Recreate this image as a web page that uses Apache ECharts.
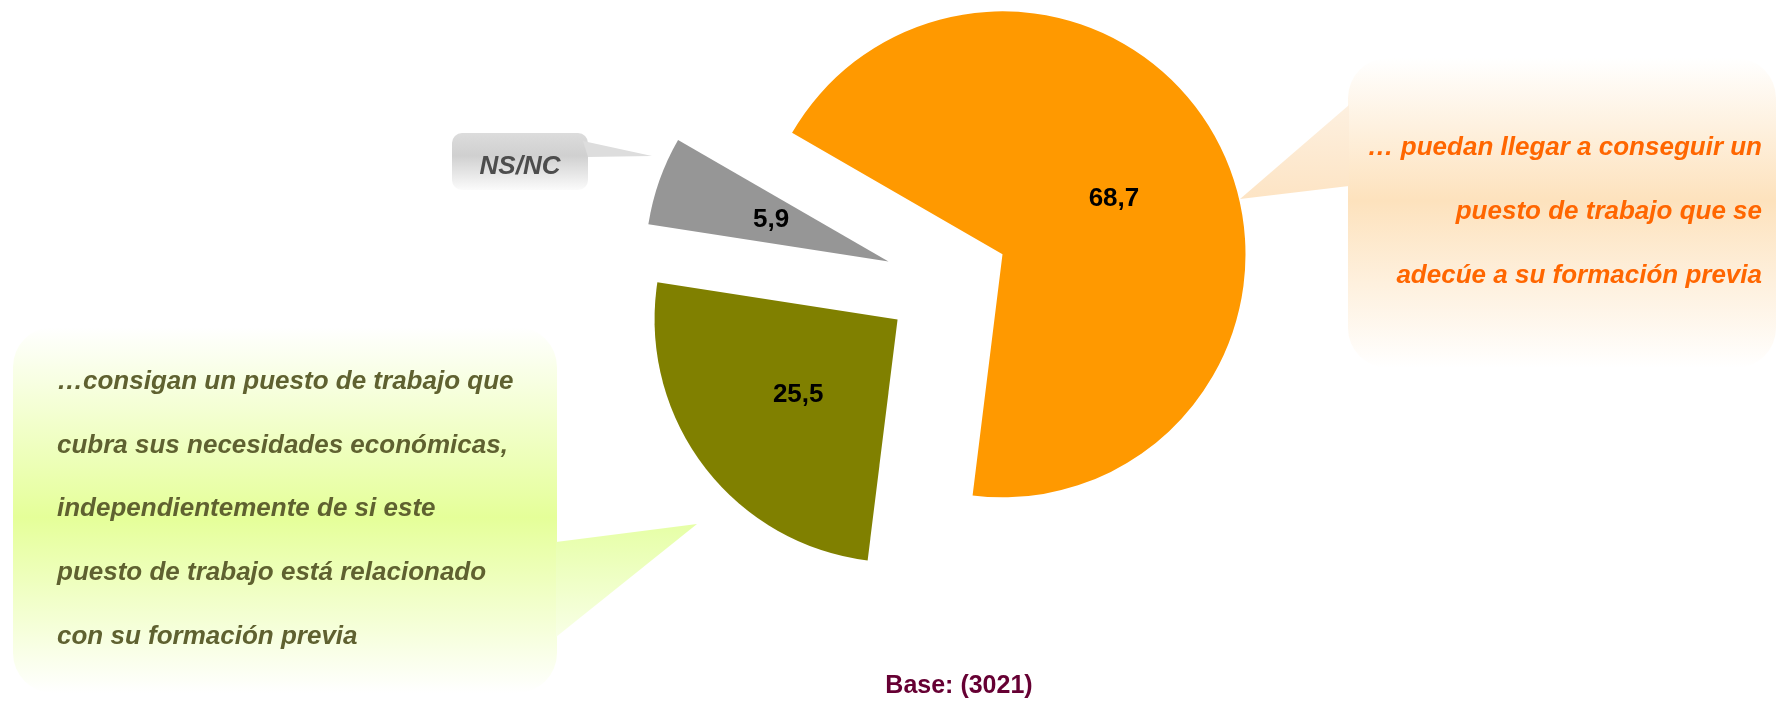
<!DOCTYPE html>
<html>
<head>
<meta charset="utf-8">
<script src="https://cdn.jsdelivr.net/npm/echarts@6/dist/echarts.min.js"></script>
<style>
  html, body { margin: 0; padding: 0; background: #fff; }
  #chart { width: 1778px; height: 703px; }
</style>
</head>
<body>
<div id="chart"></div>
<script>
// data
const categories = ['puedan llegar a conseguir', 'consigan un puesto', 'NS/NC']
const values = [68.7, 25.5, 5.9]
const sliceColors = ['#FF9900', '#808000', '#969696']

const orangeLines = [
  '\u2026 puedan llegar a conseguir un',
  'puesto de trabajo que se',
  'adec\u00fae a su formaci\u00f3n previa'
]
const greenLines = [
  '\u2026consigan un puesto de trabajo que',
  'cubra sus necesidades econ\u00f3micas,',
  'independientemente de si este',
  'puesto de trabajo est\u00e1 relacionado',
  'con su formaci\u00f3n previa'
]
const grayLabel = 'NS/NC'
const baseText = 'Base: (3021)'

const FONT = '"Liberation Sans", Arial, sans-serif'

const chart = echarts.init(document.getElementById('chart'))

const vGrad = (stops) => new echarts.graphic.LinearGradient(0, 0, 0, 1,
  stops.map(s => ({ offset: s[0], color: s[1] })))

const option = {
  animation: false,
  graphic: [
    // orange callout
    {
      type: 'rect', z: 0,
      shape: { x: 1348, y: 58, width: 428, height: 310, r: 40 },
      style: { fill: vGrad([[0, '#ffffff'], [0.46, '#fde2bd'], [1, '#ffffff']]) }
    },
    {
      type: 'polygon', z: 0,
      shape: { points: [[1349, 105], [1240, 199], [1349, 186]] },
      style: { fill: vGrad([[0, '#fdf0e0'], [1, '#fde4c4']]) }
    },
    {
      type: 'text', z: 5,
      style: {
        text: orangeLines.join('\n'), x: 1762, y: 116,
        align: 'right', verticalAlign: 'top', lineHeight: 64,
        fontSize: 26, fontWeight: 'bold', fontStyle: 'italic', fontFamily: FONT,
        fill: '#FF6600'
      }
    },
    // green callout
    {
      type: 'rect', z: 0,
      shape: { x: 13, y: 327, width: 544, height: 366, r: 40 },
      style: { fill: vGrad([[0, '#ffffff'], [0.52, '#e5ff99'], [1, '#ffffff']]) }
    },
    {
      type: 'polygon', z: 0,
      shape: { points: [[556, 542], [697, 524], [556, 637]] },
      style: { fill: vGrad([[0, '#e6ffa6'], [1, '#f8ffe6']]) }
    },
    {
      type: 'text', z: 5,
      style: {
        text: greenLines.join('\n'), x: 57, y: 350,
        align: 'left', verticalAlign: 'top', lineHeight: 63.7,
        fontSize: 26, fontWeight: 'bold', fontStyle: 'italic', fontFamily: FONT,
        fill: '#5f6130'
      }
    },
    // gray callout
    {
      type: 'rect', z: 0,
      shape: { x: 452, y: 133, width: 136, height: 57, r: 10 },
      style: { fill: vGrad([[0, '#dcdcdc'], [0.4, '#d0d0d0'], [1, '#fbfbfb']]) }
    },
    {
      type: 'polygon', z: 0,
      shape: { points: [[583, 141], [652, 156], [588, 157]] },
      style: { fill: '#dddddd' }
    },
    {
      type: 'text', z: 5,
      style: {
        text: grayLabel, x: 520, y: 167,
        align: 'center', verticalAlign: 'middle',
        fontSize: 26, fontWeight: 'bold', fontStyle: 'italic', fontFamily: FONT,
        fill: '#4d4d4d'
      }
    },
    // base
    {
      type: 'text', z: 5,
      style: {
        text: baseText, x: 959, y: 686,
        align: 'center', verticalAlign: 'middle',
        fontSize: 25, fontWeight: 'bold', fontFamily: FONT,
        fill: '#660033'
      }
    }
  ],
  series: [
    {
      type: 'pie',
      center: [947, 282],
      radius: 243,
      startAngle: 150,
      clockwise: true,
      selectedMode: 'multiple',
      selectedOffset: 62,
      avoidLabelOverlap: false,
      emphasis: { disabled: true },
      itemStyle: { borderWidth: 0 },
      label: {
        show: true,
        position: 'inside',
        color: '#000',
        fontSize: 26,
        fontWeight: 'bold',
        fontFamily: FONT,
        formatter: p => String(p.value).replace('.', ',')
      },
      labelLine: { show: false },
      data: categories.map((name, i) => ({
        name,
        value: values[i],
        selected: true,
        itemStyle: { color: sliceColors[i] },
        label: i === 2 ? { offset: [-20, 3] } : undefined
      }))
    }
  ]
}

chart.setOption(option)
</script>
</body>
</html>
